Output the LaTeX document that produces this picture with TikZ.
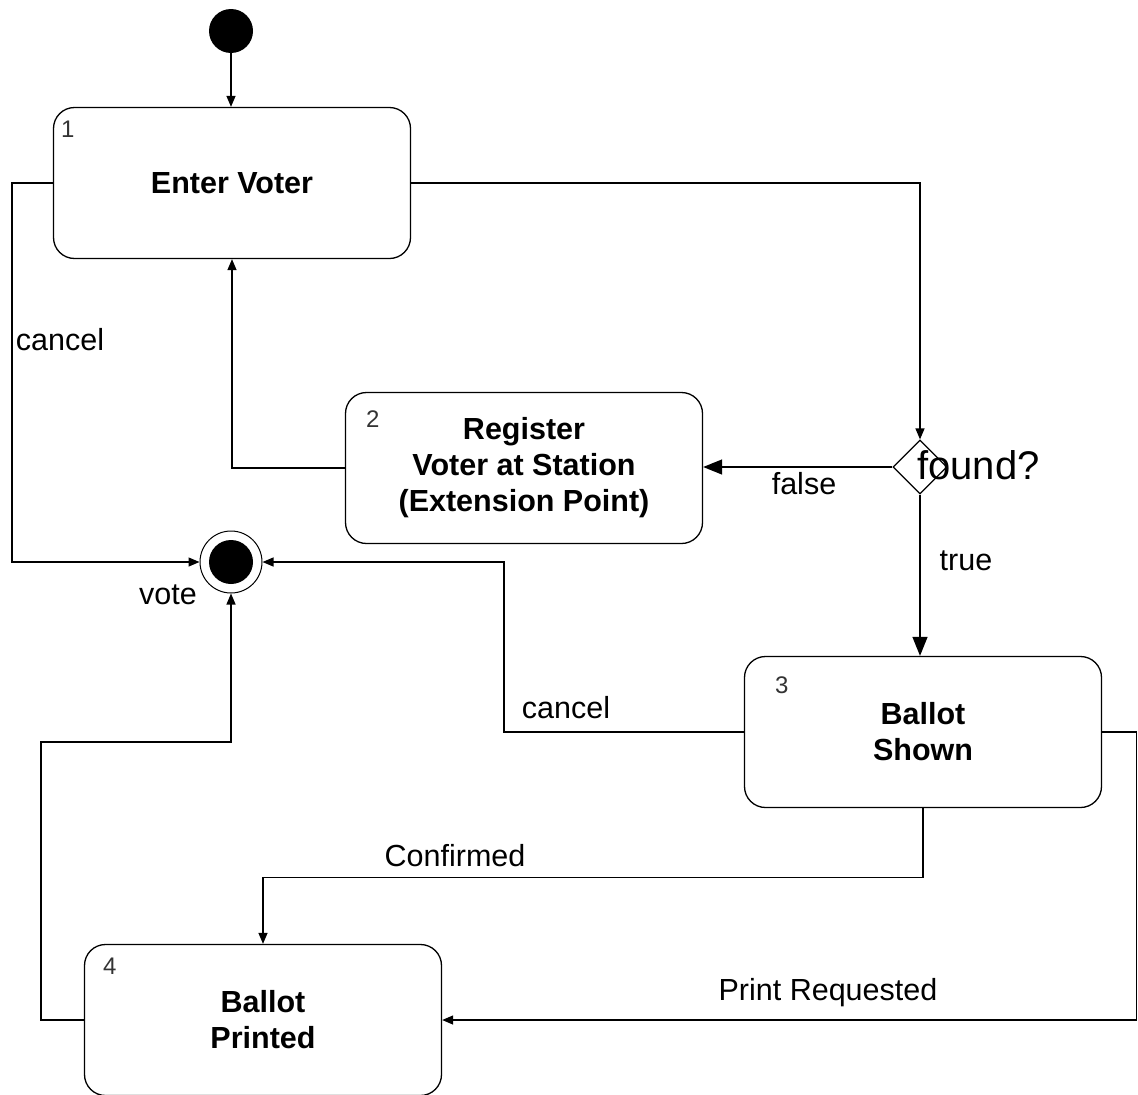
\documentclass[tikz,border=0pt]{standalone}
\usepackage{fontspec}
\setmainfont{Liberation Sans}
\usetikzlibrary{shapes.geometric,arrows.meta}

\tikzset{%
  state box/.style={
    draw,
    rectangle,
    rounded corners=21pt,
    line width=1.3pt,
    minimum width=357pt,
    minimum height=151pt,
    align=center,
    font=\fontsize{30.5}{36}\selectfont\bfseries
  },
  state number/.style={
    anchor=north west,
    inner sep=0pt,
    text=black!80,
    font=\fontsize{24}{24}\selectfont
  },
  pseudo initial/.style={
    circle,
    fill=black,
    minimum size=44pt,
    inner sep=0pt
  },
  pseudo final/.style={
    circle,
    draw,
    line width=1pt,
    minimum size=62pt,
    inner sep=0pt,
    path picture={\fill (path picture bounding box.center) circle (22pt);}
  },
  choice/.style={
    diamond,
    draw,
    aspect=1,
    line width=1.2pt,
    minimum width=54pt,
    minimum height=54pt,
    inner sep=0pt
  },
  guard/.style={
    inner sep=0pt,
    font=\fontsize{30.5}{30.5}\selectfont
  },
  transition/.style={
    line width=1.3pt,
    -{Triangle[length=11pt,width=9pt]}
  },
  big transition/.style={
    transition,
    -{Triangle[length=19pt,width=15pt]}
  },
}

\begin{document}
\begin{tikzpicture}[x=1pt, y=-1pt]
        \useasboundingbox (0,0) rectangle (1138,1095);

            % states
            \node [pseudo initial] (start) at (231,31) {};
            \node [state box] (enter) at (232,183) {Enter Voter};
            \node [state box] (register) at (524,468) {Register\\Voter at Station\\(Extension Point)};
            \node [choice] (found) at (920,467) {};
            \node [pseudo final] (vote) at (231,562) {};
            \node [state box] (shown) at (923,732) {Ballot\\Shown};
            \node [state box] (printed) at (263,1020) {Ballot\\Printed};

            \foreach \s/\n/\dx/\dy in {enter/1/8/14, register/2/21/19, shown/3/31/21, printed/4/19/14}
              \node [state number] (num-\n) at ([shift={(\dx,\dy)}]\s.north west) {\n};

            % guards and labels
            \node [guard, anchor=west, font=\fontsize{40}{40}\selectfont] (found-label) at (917,465) {found?};
            \node [guard] (cancel-enter) at (60,340) {cancel};
            \node [guard] (false) at (804,484) {false};
            \node [guard] (true) at (966,561) {true};
            \node [guard] (vote-label) at (168,595) {vote};
            \node [guard] (cancel-shown) at (566,708) {cancel};
            \node [guard] (confirmed) at (455,856) {Confirmed};
            \node [guard] (print) at (828,993) {Print Requested};

            % transitions
            \draw [transition] (start) -- (start |- enter.north);
            \draw [transition] (enter.east) -| (found.north);
            \draw [transition] (enter.west) -- ++(-41,0) |- (vote.west);
            \draw [transition] (register.west) -| (enter.south);
            \draw [big transition] (found.west) -- (found.west -| register.east);
            \draw [big transition] (found.south) -- (found.south |- shown.north);
            \draw [transition] (shown.west) -- ++(-240,0) |- (vote.east);
            \draw [transition] (shown.south) -- ++(0,69) -| (printed.north);
            \draw [transition] (shown.east) -- ++(34,0) |- (printed.east);
            \draw [transition] (printed.west) -- ++(-43,0) -- ++(0,-278) -| (vote.south);

        \end{tikzpicture}
\end{document}
